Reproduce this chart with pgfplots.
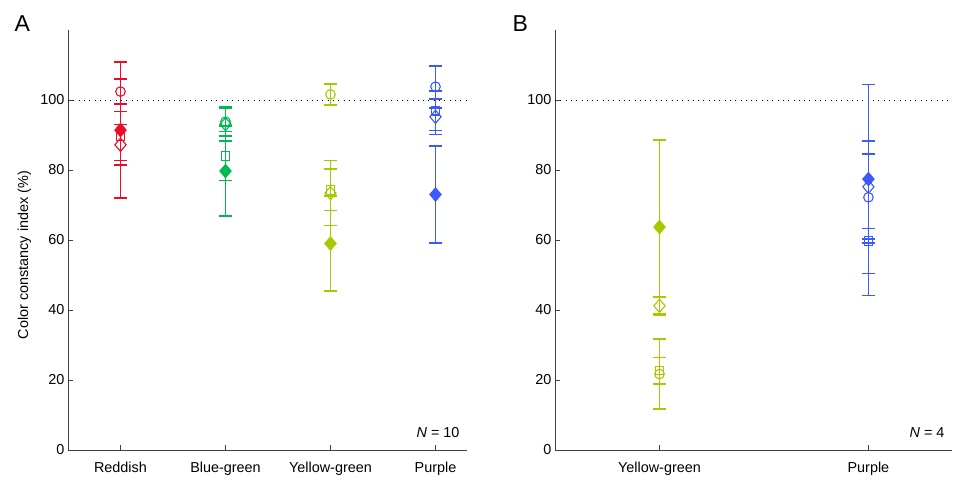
\documentclass[border=0pt]{standalone}
\usepackage{fontspec}
\setmainfont{Liberation Sans}
\usepackage{pgfplots}
\pgfplotsset{compat=1.18}

\definecolor{ccRed}{RGB}{240,10,40}
\definecolor{ccGreen}{RGB}{0,185,80}
\definecolor{ccYellow}{RGB}{170,200,0}
\definecolor{ccPurple}{RGB}{60,90,250}

\newcommand{\lbl}{\fontsize{14.4}{17}\selectfont}

% one marker with its error bar: colour, mark, mark size, extra mark options, coordinates
\newcommand{\ccplot}[5]{%
  \addplot[only marks, color=#1, mark=#2, mark size=#3, line width=1.1pt,
    mark options={solid, color=#1, line width=1.1pt, #4},
    error bars/.cd, y dir=both, y explicit,
    error bar style={color=#1, line width=1.7pt},
    error mark options={rotate=90, color=#1, mark size=6.5pt, line width=1.7pt}]
    coordinates {#5};}

\pgfplotsset{
  ccaxis/.style={
    scale only axis,
    height=420pt,
    ymin=0, ymax=120,
    ytick={0,20,40,60,80,100},
    axis lines*=left,
    axis line style={black!75, line width=0.8pt},
    tick style={black!75, line width=0.8pt},
    tick align=inside,
    major tick length=5pt,
    tick label style={font=\lbl},
    label style={font=\lbl},
    /pgf/number format/assume math mode=true,
    xticklabel style={yshift=-9pt},
    clip=false,
  },
  refline/.style={black, line width=0.9pt, dash pattern=on 1pt off 4.3pt},
}

\begin{document}
\begin{tikzpicture}
\useasboundingbox (0,0) rectangle (966pt,479pt);

% panel A
\begin{axis}[ccaxis,
    at={(68pt,29pt)}, anchor=south west,
    width=399pt,
    xmin=0.5, xmax=4.3,
    xtick={1,2,3,4},
    xticklabels={Reddish,Blue-green,Yellow-green,Purple},
    ylabel={Color constancy index (\%)},
    ylabel style={at={(axis description cs:-0.109,0.464)}, anchor=center},
]
\addplot[refline] coordinates {(0.5,100) (4.3,100)};

\ccplot{ccRed}{o}{4.8pt}{}{(1,102.4) +- (0,3.6)}
\ccplot{ccRed}{square}{4.2pt}{}{(1,89.7) +- (0,7.0)}
\ccplot{ccRed}{diamond}{6.6pt}{xscale=1.13}{(1,87.2) +- (0,5.8)}
\ccplot{ccRed}{diamond*}{6.6pt}{xscale=1.13}{(1,91.4) +- (0,19.5)}

\ccplot{ccGreen}{o}{4.8pt}{}{(2,93.8) +- (0,4.0)}
\ccplot{ccGreen}{square}{4.2pt}{}{(2,84.0) +- (0,7.0)}
\ccplot{ccGreen}{diamond}{6.6pt}{xscale=1.13}{(2,93.1) +- (0,4.8)}
\ccplot{ccGreen}{diamond*}{6.6pt}{xscale=1.13}{(2,79.7) +- (0,12.8)}

\ccplot{ccYellow}{o}{4.8pt}{}{(3,101.6) +- (0,3.0)}
\ccplot{ccYellow}{square}{4.2pt}{}{(3,74.3) +- (0,5.9)}
\ccplot{ccYellow}{diamond}{6.6pt}{xscale=1.13}{(3,73.4) +- (0,9.3)}
\ccplot{ccYellow}{diamond*}{6.6pt}{xscale=1.13}{(3,59.0) +- (0,13.5)}

\ccplot{ccPurple}{o}{4.8pt}{}{(4,103.8) +- (0,6.0)}
\ccplot{ccPurple}{square}{4.2pt}{}{(4,96.9) +- (0,5.6)}
\ccplot{ccPurple}{diamond}{6.6pt}{xscale=1.13}{(4,95.2) +- (0,5.1)}
\ccplot{ccPurple}{diamond*}{6.6pt}{xscale=1.13}{(4,73.0) +- (0,13.8)}

\node[anchor=base east, xshift=-4pt, yshift=13pt, font=\lbl] at (rel axis cs:1,0) {\textit{N} = 10};
\end{axis}

% panel B
\begin{axis}[ccaxis,
    at={(555pt,29pt)}, anchor=south west,
    width=397pt,
    xmin=0.5, xmax=2.4,
    xtick={1,2},
    xticklabels={Yellow-green,Purple},
]
\addplot[refline] coordinates {(0.5,100) (2.4,100)};

\ccplot{ccYellow}{o}{4.8pt}{}{(1,21.7) +- (0,10.0)}
\ccplot{ccYellow}{square}{4.2pt}{}{(1,22.7) +- (0,3.75)}
\ccplot{ccYellow}{diamond}{6.6pt}{xscale=1.13}{(1,41.2) +- (0,2.6)}
\ccplot{ccYellow}{diamond*}{6.6pt}{xscale=1.13}{(1,63.7) +- (0,24.9)}

\ccplot{ccPurple}{o}{4.8pt}{}{(2,72.2) += (0,12.4) -= (0,28.1)}
\ccplot{ccPurple}{square}{4.2pt}{}{(2,59.7) +- (0,0.6)}
\ccplot{ccPurple}{diamond}{6.6pt}{xscale=1.13}{(2,75.2) += (0,13.1) -= (0,11.9)}
\ccplot{ccPurple}{diamond*}{6.6pt}{xscale=1.13}{(2,77.4) +- (0,27.0)}

\node[anchor=base east, xshift=-4pt, yshift=13pt, font=\lbl] at (rel axis cs:1,0) {\textit{N} = 4};
\end{axis}

\node[anchor=base west, font=\fontsize{23}{26}\selectfont] at (11pt,447pt) {A};
\node[anchor=base west, font=\fontsize{23}{26}\selectfont] at (509pt,447pt) {B};
\end{tikzpicture}
\end{document}
